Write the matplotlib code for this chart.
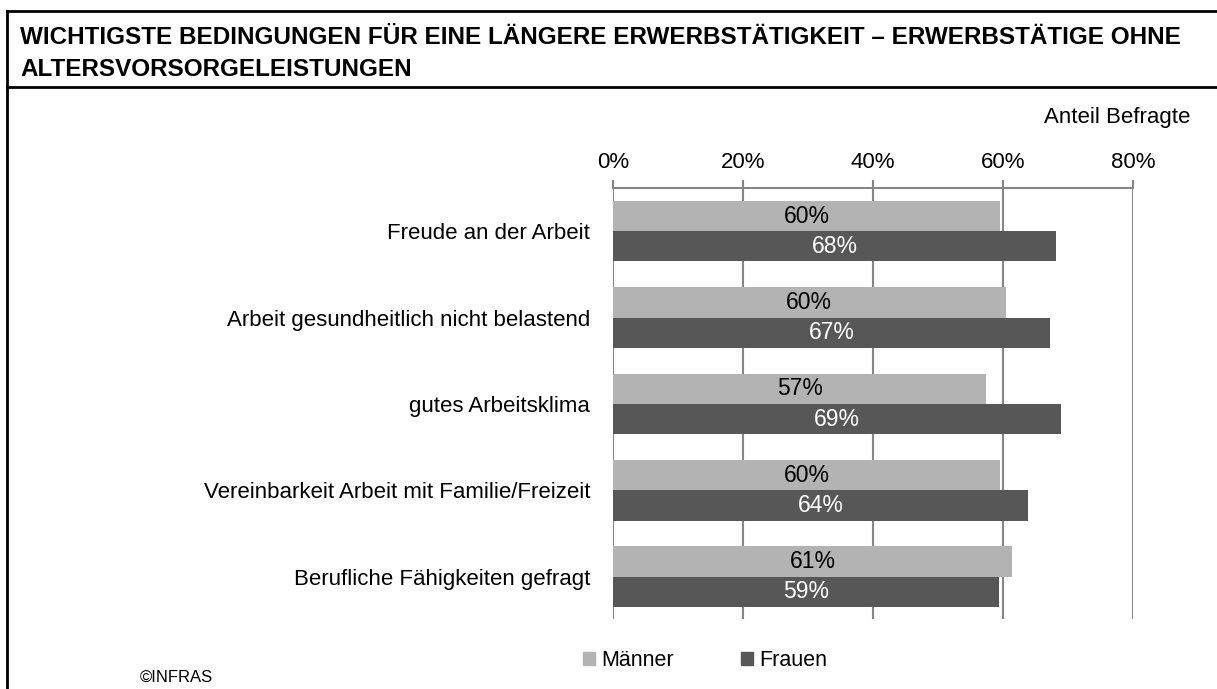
import matplotlib.pyplot as plt
import matplotlib.patches as mpatches
from matplotlib.lines import Line2D

categories = [
    "Freude an der Arbeit",
    "Arbeit gesundheitlich nicht belastend",
    "gutes Arbeitsklima",
    "Vereinbarkeit Arbeit mit Familie/Freizeit",
    "Berufliche Fähigkeiten gefragt",
]
maenner = [59.6, 60.4, 57.4, 59.6, 61.4]
frauen = [68.2, 67.2, 68.9, 63.8, 59.4]
xticks = [0, 20, 40, 60, 80]
xticklabels = ["0%", "20%", "40%", "60%", "80%"]

title_line1 = "WICHTIGSTE BEDINGUNGEN FÜR EINE LÄNGERE ERWERBSTÄTIGKEIT – ERWERBSTÄTIGE OHNE"
title_line2 = "ALTERSVORSORGELEISTUNGEN"

plt.rcParams['font.family'] = ['Liberation Sans', 'DejaVu Sans']

c_m = '#b3b3b3'
c_f = '#575757'
c_grid = '#868686'

W, H = 1217, 689
fig = plt.figure(figsize=(W / 100, H / 100), dpi=100)

# axes placed in pixel coordinates of the reference
left, right, top, bottom = 613, 1133, 188, 619
ax = fig.add_axes([left / W, 1 - bottom / H, (right - left) / W, (bottom - top) / H])

y = list(range(len(categories)))
h = 0.35
ax.barh([i - h / 2 for i in y], maenner, height=h, color=c_m, edgecolor='none')
ax.barh([i + h / 2 for i in y], frauen, height=h, color=c_f, edgecolor='none')

for i in y:
    ax.text(maenner[i] / 2, i - h / 2, f"{maenner[i]:.0f}%", ha='center', va='center',
            fontsize=16.5, color='black')
    ax.text(frauen[i] / 2, i + h / 2, f"{frauen[i]:.0f}%", ha='center', va='center',
            fontsize=16.5, color='white')

ax.set_xlim(0, 80)
ax.set_ylim(len(categories) - 0.51, -0.5)
ax.set_yticks(y)
ax.set_yticklabels(categories, fontsize=16)
ax.tick_params(axis='y', length=0, pad=16.5)

ax.xaxis.tick_top()
ax.set_xticks(xticks)
ax.set_xticklabels(xticklabels, fontsize=16)
ax.tick_params(axis='x', direction='out', length=6, width=1.5, color=c_grid, pad=5)

ax.grid(True, axis='x', color=c_grid, linewidth=1.5)
ax.set_axisbelow(True)
for s in ['right', 'bottom', 'left']:
    ax.spines[s].set_visible(False)
ax.spines['top'].set_color(c_grid)
ax.spines['top'].set_linewidth(1.5)

# frame and header
fig.add_artist(Line2D([7 / W, 1], [1 - 11 / H, 1 - 11 / H], color='black', lw=2))
fig.add_artist(Line2D([7 / W, 1], [1 - 87 / H, 1 - 87 / H], color='black', lw=2))
fig.add_artist(Line2D([7 / W, 7 / W], [0, 1 - 11 / H], color='black', lw=2))

tkw = dict(fontsize=17.5, fontweight='bold', va='baseline')
fig.text(20 / W, 1 - 44 / H, title_line1, **tkw)
fig.text(20 / W, 1 - 76 / H, title_line2, **tkw)

fig.text(1190 / W, 1 - 117 / H, "Anteil Befragte", fontsize=16, ha='right', va='center')
fig.text(140 / W, 1 - 677 / H, "©INFRAS", fontsize=12, ha='left', va='center')

handles = [mpatches.Patch(color=c_m, label='Männer'), mpatches.Patch(color=c_f, label='Frauen')]
fig.legend(handles=handles, loc='center', bbox_to_anchor=(705 / W, 1 - 661 / H), ncol=2,
           frameon=False, fontsize=15.5, handlelength=0.55, handleheight=0.55,
           handletextpad=0.3, columnspacing=3.1)

fig.savefig('out.png', dpi=100)
